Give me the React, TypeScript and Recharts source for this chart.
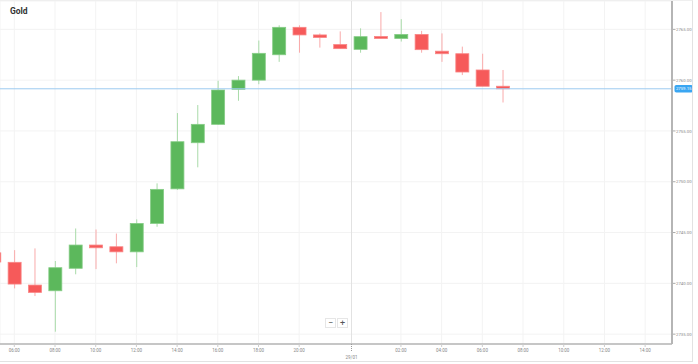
import React from 'react';
import { ComposedChart, Bar, XAxis, YAxis, CartesianGrid, ReferenceLine } from 'recharts';

const slots = [-1, 0, 1, 2, 3, 4, 5, 6, 7, 8, 9, 10, 11, 12, 13, 14, 15, 16, 17, 18, 19, 20, 21, 22, 23, 24];
const opens = [2743.0, 2742.07, 2739.83, 2739.27, 2741.48, 2743.77, 2743.6, 2743.1, 2745.9, 2749.3, 2753.84, 2755.65, 2759.1, 2760.0, 2762.5, 2765.2, 2764.45, 2763.5, 2763.03, 2764.3, 2764.1, 2764.5, 2762.85, 2762.6, 2761.0, 2759.4];
const highs = [2743.6, 2743.27, 2743.44, 2742.2, 2745.4, 2745.3, 2744.9, 2746.3, 2749.84, 2756.76, 2757.55, 2759.94, 2760.4, 2763.9, 2765.4, 2765.4, 2764.6, 2764.8, 2765.1, 2766.7, 2766.0, 2764.85, 2764.6, 2763.3, 2762.6, 2761.0];
const lows = [2741.8, 2739.5, 2738.75, 2735.24, 2740.89, 2741.4, 2741.97, 2741.6, 2745.57, 2749.2, 2751.42, 2755.6, 2757.97, 2759.6, 2761.8, 2762.7, 2763.2, 2763.1, 2762.7, 2764.1, 2763.8, 2762.7, 2761.8, 2760.5, 2759.4, 2757.8];
const closes = [2742.1, 2739.93, 2739.11, 2741.54, 2743.77, 2743.5, 2743.1, 2745.9, 2749.25, 2753.94, 2755.65, 2759.03, 2760.0, 2762.64, 2765.2, 2764.45, 2764.2, 2763.1, 2764.28, 2764.1, 2764.5, 2763.0, 2762.6, 2760.8, 2759.4, 2759.15];

const xTickPositions = [0, 2, 4, 6, 8, 10, 12, 14, 16.57, 19, 21, 23, 25, 27, 29, 31];
const xTickLabels = ['06:00', '08:00', '10:00', '12:00', '14:00', '16:00', '18:00', '20:00', '29/01', '02:00', '04:00', '06:00', '08:00', '10:00', '12:00', '14:00'];
const yTicks = [2735, 2740, 2745, 2750, 2755, 2760, 2765];
const lastPrice = 2759.15;
const title = 'Gold';

const data = slots.map((i, k) => ({ i, o: opens[k], h: highs[k], l: lows[k], c: closes[k], range: [lows[k], highs[k]] }));

const FONT = 'Roboto, "Open Sans", Arial, sans-serif';

const Candle = (props: any) => {
  const { x, y, width, height, payload } = props;
  if (x == null || payload == null) return null;
  const cx = x + width / 2;
  const top = Math.min(y, y + height);
  const h = Math.abs(height);
  const ratio = h / (payload.h - payload.l);
  const bodyTop = top + (payload.h - Math.max(payload.o, payload.c)) * ratio;
  let bodyH = Math.abs(payload.o - payload.c) * ratio;
  if (bodyH < 2) bodyH = 2;
  const up = payload.c >= payload.o;
  const fill = up ? '#5cb85c' : '#f65a5a';
  const stroke = up ? '#86cc86' : '#f98585';
  const wick = up ? '#a9dba9' : '#f9aaaa';
  return (
    <g>
      <line x1={cx} x2={cx} y1={top} y2={top + h} stroke={wick} strokeWidth={1} />
      <rect x={cx - 6.5} y={bodyTop} width={13} height={bodyH} fill={fill} stroke={stroke} strokeWidth={0.8} />
    </g>
  );
};

const XTick = (props: any) => {
  const { x, payload } = props;
  const k = xTickPositions.indexOf(payload.value);
  const label = k >= 0 ? xTickLabels[k] : '';
  const isDate = label.indexOf('/') >= 0;
  return (
    <g>
      {isDate ? (
        <line x1={x} x2={x} y1={344} y2={352} stroke="#999" strokeDasharray="1 1" />
      ) : (
        <line x1={x} x2={x} y1={344} y2={347} stroke="#ccc" />
      )}
      <text x={x} y={isDate ? 358.5 : 351.5} textAnchor="middle" fontSize={4.5} fill="#888" fontFamily={FONT}>
        {label}
      </text>
    </g>
  );
};

const YTick = (props: any) => {
  const { y, payload } = props;
  return (
    <g>
      <line x1={673} x2={675.5} y1={y} y2={y} stroke="#aaa" />
      <text x={676} y={y + 1.6} fontSize={4.3} fill="#888" fontFamily={FONT}>
        {Number(payload.value).toFixed(2)}
      </text>
    </g>
  );
};

const PriceLabel = (props: any) => {
  const vb = props.viewBox || {};
  const yy = vb.y;
  return (
    <g>
      <rect x={674.5} y={yy - 3.8} width={18.5} height={7.6} rx={1.8} fill="#3aa6f2" />
      <text x={683.7} y={yy + 1.6} textAnchor="middle" fontSize={4.3} fill="#fff" fontFamily={FONT}>
        {lastPrice.toFixed(2)}
      </text>
    </g>
  );
};

export default function App() {
  return (
    <div style={{ position: 'absolute', left: 0, top: 0, width: 698, height: 364, background: '#fff', overflow: 'hidden' }}>
      <ComposedChart width={698} height={364} data={data} margin={{ top: 1, right: 0, bottom: 0, left: 0 }}>
        <CartesianGrid stroke="#f3f3f3" strokeWidth={1} />
        <XAxis
          dataKey="i"
          type="number"
          domain={[-0.703, 32.32]}
          allowDataOverflow
          ticks={xTickPositions}
          interval={0}
          tick={<XTick />}
          tickLine={false}
          axisLine={{ stroke: '#b5b5b5', strokeWidth: 1.5 }}
          height={20}
        />
        <YAxis
          orientation="right"
          width={26}
          domain={[2734.03, 2767.79]}
          allowDataOverflow
          ticks={yTicks}
          interval={0}
          tick={<YTick />}
          tickLine={false}
          axisLine={{ stroke: '#b5b5b5', strokeWidth: 2 }}
        />
        <ReferenceLine x={16.57} stroke="#e2e2e2" strokeWidth={1} />
        <ReferenceLine y={lastPrice} stroke="#9ccbf0" strokeWidth={1} label={<PriceLabel />} />
        <Bar dataKey="range" barSize={13} shape={<Candle />} isAnimationActive={false} />
      </ComposedChart>
      <div style={{ position: 'absolute', left: 10, top: 6, fontFamily: FONT, fontWeight: 700, fontSize: 8.5, color: '#333' }}>{title}</div>
      <div style={{ position: 'absolute', left: 0, top: 0, width: 693, height: 362, borderRight: '1px solid #e2e2e2', borderBottom: '1px solid #e2e2e2', borderTop: '1px solid #efefef', boxSizing: 'border-box', pointerEvents: 'none' }} />
      <div style={{ position: 'absolute', left: 325, top: 318, width: 11, height: 10, border: '1px solid #e6e6e6', background: '#fff', fontFamily: FONT, fontSize: 9, lineHeight: '9px', textAlign: 'center', color: '#555', boxSizing: 'border-box' }}>−</div>
      <div style={{ position: 'absolute', left: 337, top: 318, width: 11, height: 10, border: '1px solid #e6e6e6', background: '#fff', fontFamily: FONT, fontSize: 9, lineHeight: '9px', textAlign: 'center', color: '#555', boxSizing: 'border-box' }}>+</div>
    </div>
  );
}
